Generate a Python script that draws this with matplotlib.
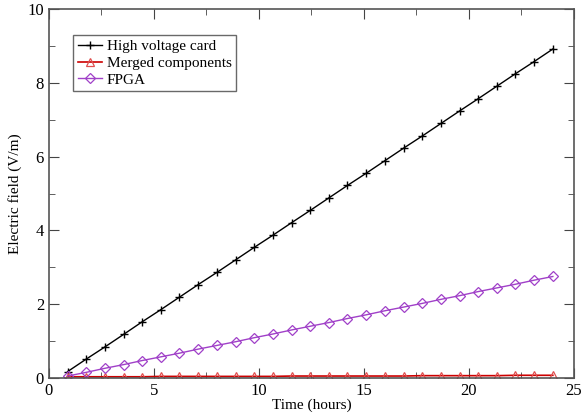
import numpy as np
import matplotlib
matplotlib.use("Agg")
import matplotlib.pyplot as plt
from matplotlib.ticker import MultipleLocator

plt.rcParams['font.family'] = ['Liberation Serif', 'DejaVu Serif']

# time samples (hours)
hours = [0.89, 1.78, 2.67, 3.56, 4.44, 5.33, 6.22, 7.11, 8.00, 8.89,
         9.78, 10.67, 11.56, 12.44, 13.33, 14.22, 15.11, 16.00, 16.89, 17.78,
         18.67, 19.56, 20.44, 21.33, 22.22, 23.11, 24.00]

hv_card = [0.17, 0.51, 0.84, 1.18, 1.52, 1.85, 2.19, 2.53, 2.86, 3.20,
           3.54, 3.87, 4.21, 4.54, 4.88, 5.22, 5.55, 5.89, 6.23, 6.56,
           6.90, 7.24, 7.57, 7.91, 8.25, 8.58, 8.92]

merged = [0.03, 0.03, 0.03, 0.03, 0.03, 0.04, 0.04, 0.04, 0.04, 0.04,
          0.04, 0.04, 0.05, 0.05, 0.05, 0.05, 0.05, 0.05, 0.05, 0.06,
          0.06, 0.06, 0.06, 0.06, 0.07, 0.07, 0.07]

fpga = [0.05, 0.15, 0.26, 0.36, 0.47, 0.57, 0.67, 0.78, 0.88, 0.98,
        1.09, 1.19, 1.30, 1.40, 1.50, 1.61, 1.71, 1.82, 1.92, 2.02,
        2.13, 2.23, 2.34, 2.44, 2.54, 2.65, 2.75]

fig = plt.figure(figsize=(5.82, 4.18), dpi=100)
ax = fig.add_axes([0.084, 0.096, 0.902, 0.882])

purple = '#a040c8'
ax.plot(hours, hv_card, '-', color='black', lw=1, marker='+', ms=6, mew=1,
        label='High voltage card')
ax.plot(hours, merged, '-', color='#cc0000', lw=1.2, marker='^', ms=6, mew=0.9,
        mfc='none', mec='#e05050', label='Merged components')
ax.plot(hours, fpga, '-', color=purple, lw=1, marker='D', ms=5, mew=0.9,
        mfc='none', mec=purple, label='FPGA')

ax.set_xlim(0, 25)
ax.set_ylim(0, 10)
ax.xaxis.set_major_locator(MultipleLocator(5))
ax.xaxis.set_minor_locator(MultipleLocator(2.5))
ax.yaxis.set_major_locator(MultipleLocator(2))
ax.yaxis.set_minor_locator(MultipleLocator(1))
ax.tick_params(which='both', direction='in', top=True, right=True,
               labelsize=12, color='#444444')
ax.tick_params(which='major', length=7)
ax.tick_params(which='minor', length=4)
for s in ax.spines.values():
    s.set_color('#555555')
    s.set_linewidth(1.2)

ax.set_xlabel('Time (hours)', fontsize=11, labelpad=0)
ax.set_ylabel('Electric field (V/m)', fontsize=11, labelpad=4)

leg = ax.legend(loc='upper left', bbox_to_anchor=(0.046, 0.93), fontsize=11,
                frameon=True, fancybox=False, edgecolor='#444444',
                handlelength=1.6, borderpad=0.3, labelspacing=0.2,
                handletextpad=0.3, borderaxespad=0)
leg.get_frame().set_linewidth(1.0)

fig.savefig('out.png', dpi=100)
